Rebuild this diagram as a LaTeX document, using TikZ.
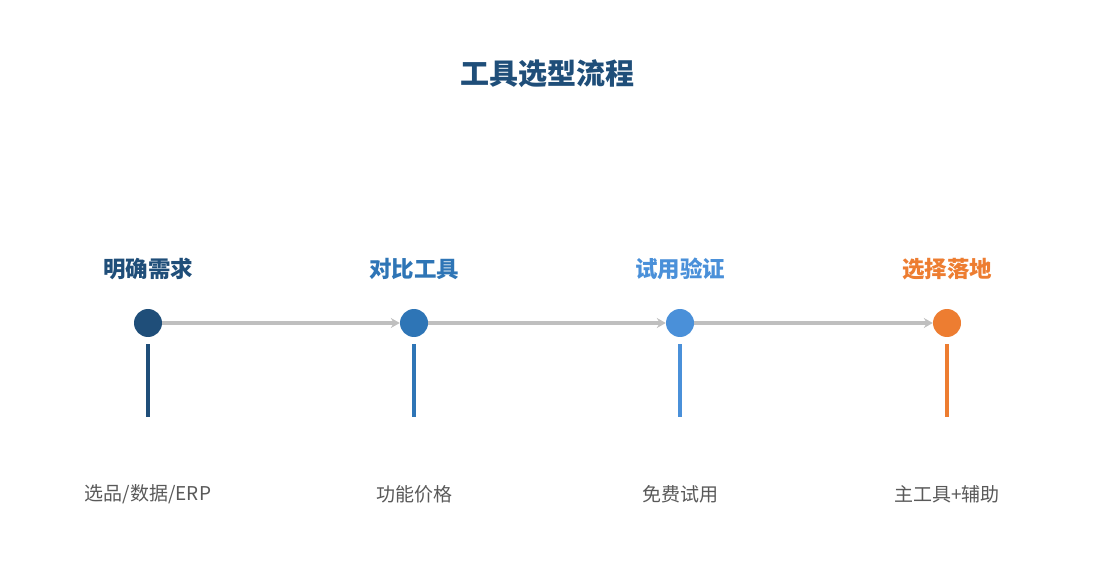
\documentclass[tikz,border=0pt]{standalone}
\usepackage{fontspec}
\setmainfont{Noto Sans CJK SC}
\usetikzlibrary{arrows.meta}
\definecolor{stepA}{HTML}{1F4E79}
\definecolor{stepB}{HTML}{2E75B6}
\definecolor{stepC}{HTML}{4A90D9}
\definecolor{stepD}{HTML}{ED7D31}
\definecolor{linkgray}{HTML}{BFBFBF}
\definecolor{notegray}{HTML}{595959}
\begin{document}
\begin{tikzpicture}[x=1pt,y=-1pt,
	dot/.style={circle,fill=#1,inner sep=0pt,minimum size=28pt},
	head/.style={text=#1,font=\fontsize{22.5}{26}\selectfont\bfseries},
	note/.style={text=notegray,font=\fontsize{19}{22}\selectfont},
	link/.style={draw=linkgray,line width=3.2pt,-{Stealth[length=9pt,width=10pt,inset=3pt]}}]
\useasboundingbox (0,0) rectangle (1095,585);

\node[text=stepA,font=\fontsize{29}{33}\selectfont\bfseries] at (547,74) (title) {工具选型流程};

\foreach \i/\x/\c/\t/\d in {1/148/stepA/明确需求/{选品/数据/ERP},2/414/stepB/对比工具/功能价格,3/680/stepC/试用验证/免费试用,4/947/stepD/选择落地/主工具+辅助}{
	\node[dot=\c] at (\x,323) (c\i) {};
	\node[head=\c] at (\x,269) (t\i) {\t};
	\node[note] at (\x,494) (l\i) {\d};
	\coordinate (s\i) at (\x,344);
	\coordinate (e\i) at (\x,417);
	\draw[\c,line width=4pt] (s\i) -- (e\i);
}

\draw[link] (c1) -- (c2);
\draw[link] (c2) -- (c3);
\draw[link] (c3) -- (c4);
\end{tikzpicture}
\end{document}
